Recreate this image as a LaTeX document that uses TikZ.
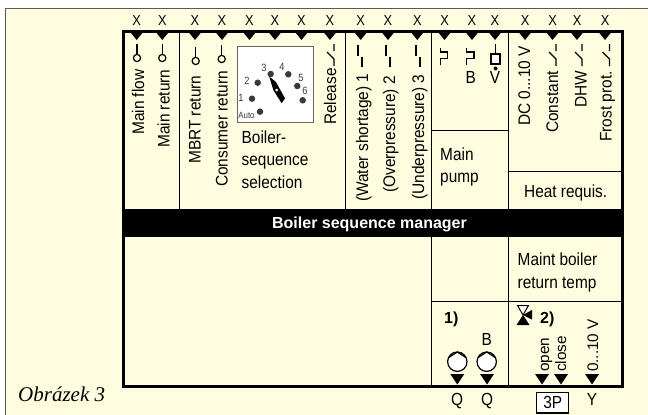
\documentclass[tikz,border=0pt]{standalone}
\usepackage{fontspec}
\setmainfont[FakeStretch=0.88]{Liberation Sans}
\newfontfamily\rotfont[FakeStretch=0.92]{Liberation Sans}
\newfontfamily\plainfont{Liberation Sans}
\newfontfamily\capfont{Liberation Serif}
\definecolor{cream}{HTML}{FFFDE0}
\definecolor{dial}{HTML}{3A3A3A}
\tikzset{
  x=1pt,y=-1pt,
  lab/.style={inner sep=0pt,anchor=base west,font=\fontsize{17.5}{20}\selectfont},
  rlab/.style={inner sep=0pt,anchor=base west,rotate=90,font=\rotfont\fontsize{16.8}{20}\selectfont},
  slab/.style={rlab,font=\plainfont\fontsize{15.3}{18}\selectfont},
  ctr/.style={inner sep=0pt,anchor=base,font=\fontsize{17.5}{20}\selectfont},
  xmark/.style={inner sep=0pt,anchor=base,font=\fontsize{14.5}{16}\selectfont},
  term/.style={fill=black,draw=none},
  sw/.style={line width=1.3pt},
  dot/.style={circle,fill=dial,inner sep=0pt,minimum size=6.5pt},
  num/.style={inner sep=0pt,font=\fontsize{10.5}{11}\selectfont,text=dial}
}
\newcommand{\termT}[1]{\fill[term] (#1-6.5,32) -- (#1+6.5,32) -- (#1,40) -- cycle;}
\newcommand{\termB}[1]{\fill[term] (#1-7,374) -- (#1+7,374) -- (#1,384.5) -- cycle;}
\newcommand{\xm}[1]{\node[xmark] at (#1,25) {X};}
\newcommand{\sens}[3]{\draw[line width=1.2pt] (#1,#2) -- (#1,#3); \draw[line width=1.2pt] (#1,#3+4) circle[radius=3.6];}
\newcommand{\contact}[1]{\draw[sw] (#1,44) -- (#1,51) (#1-7,52) -- (#1,59) -- (#1,66);}
\newcommand{\water}[2]{\draw[line width=2.4pt] (#1,45) -- (#1,55.7) (#2,56.7) -- (#2,67.3);}
\newcommand{\pump}[1]{\draw[line width=1.2pt,fill=white] (#1,361.7) circle[radius=9.7]; \draw[line width=1.2pt] (#1-8.5,357.5) -- (#1,352) -- (#1+8.5,357.5);}
\newcommand{\pumpsw}[2]{\draw[line width=1.3pt] (#1,48) -- (#1,52) -- (#2,52) -- (#2,58.7) -- (#1,58.7) -- (#1,64.7);}
\begin{document}
\begin{tikzpicture}
\useasboundingbox (0,0) rectangle (648,415);
\fill[white] (0,0) rectangle (648,415);
\fill[cream] (5,8) rectangle (648,415);
\draw[line width=1pt,draw=black!65] (5,415) -- (5,8) -- (648,8);
% frame
\fill[black] (123.5,208.5) rectangle (622.3,236.8);
\draw[line width=1pt]
  (179.5,32) -- (179.5,208.5)
  (345.7,32) -- (345.7,208.5)
  (431.5,32) -- (431.5,208.5)
  (508.3,32) -- (508.3,208.5)
  (431.5,130.7) -- (508.3,130.7)
  (508.3,171.3) -- (622.3,171.3)
  (431.5,236.8) -- (431.5,386)
  (508.3,236.8) -- (508.3,386)
  (431.5,301.7) -- (622.3,301.7);
\draw[line width=3pt] (123.5,31.5) rectangle (622.3,386);
% top marks
\foreach \q in {136.7,162.3,195,222,249.5,275,301.5,330,360.7,388,417.3,444.5,472,495,525,552.5,577,605}{\termT{\q}\xm{\q}}
% sensors
\sens{137}{44}{54}
\sens{162.3}{44}{54}
\sens{195.7}{47}{57}
\sens{221.7}{45}{55}
% labels rotated
\node[rlab] at (144,135) {Main flow};
\node[rlab] at (169.5,148) {Main return};
\node[rlab] at (200.5,164) {MBRT return};
\node[rlab] at (227.5,187) {Consumer return};
\node[rlab] at (336,125) {Release};
\contact{334}
\node[rlab] at (368,202) {(Water shortage) 1};
\node[rlab] at (395,193) {(Overpressure) 2};
\node[rlab] at (424,200) {(Underpressure) 3};
\water{358}{362}\water{385.7}{390}\water{416}{420}
\node[rlab] at (530,126) {DC 0...10 V};
\node[rlab] at (558,133) {Constant};
\node[rlab] at (586.7,108) {DHW};
\node[rlab] at (611.7,142) {Frost prot.};
\contact{556}\contact{582}\contact{609.5}
% dial
\draw[line width=1pt,draw=black!60,fill=white] (237.3,46.5) rectangle (313,122.5);
\node[dot] (d0) at (252,98.7) {};
\node[dot] (d1) at (257.7,82.7) {};
\node[dot] (d2) at (270.7,74) {};
\node[dot] (d3) at (288.3,74.3) {};
\node[dot] (d4) at (297.3,86) {};
\node[dot] (d5) at (302.7,100.3) {};
\node[dot] (d6) at (260,111.7) {};
\node[num] at (241,97.5) {1};
\node[num] at (247,81) {2};
\node[num] at (264,68) {3};
\node[num] at (282,66.5) {4};
\node[num] at (301,77.5) {5};
\node[num] at (305,91) {6};
\node[inner sep=0pt,font=\fontsize{9}{10}\selectfont,text=dial] at (246.5,115) {Auto};
\fill[black] (269.3,76.7) -- (275.7,81.7) -- (285,98.3) -- (281.7,103.3) -- (273.3,90) -- cycle;
\fill[white] (276.7,90) circle[radius=1.5];
% texts
\node[lab] at (241.5,143) {Boiler-};
\node[lab] at (241.5,165) {sequence};
\node[lab] at (241.5,188) {selection};
\node[lab] at (440,160) {Main};
\node[lab] at (440,182) {pump};
\node[lab] at (524,197) {Heat requis.};
\node[inner sep=0pt,anchor=base,text=white,font=\plainfont\fontsize{16}{20}\bfseries\selectfont] at (369.5,228) {Boiler sequence manager};
\node[lab] at (517.5,265.7) {Maint boiler};
\node[lab] at (517.5,288) {return temp};
% switch symbols main pump
\pumpsw{440.7}{447.7}
\pumpsw{466.7}{474}
\node[ctr] at (470.7,83) {B};
\draw[line width=1.2pt] (495.5,44) -- (495.5,53);
\draw[line width=2.5pt,fill=white] (491,54) rectangle (500,64);
\fill (495.5,68.5) circle[radius=2];
\node[ctr] at (495,83) {V};
% bottom
\node[inner sep=0pt,anchor=base west,font=\plainfont\fontsize{16}{20}\bfseries\selectfont] at (444,323) {1)};
\node[inner sep=0pt,anchor=base west,font=\plainfont\fontsize{16}{20}\bfseries\selectfont] at (540,323) {2)};
\node[ctr] at (486.7,345) {B};
\pump{457.3}\pump{486.7}
\foreach \q in {457.3,487,542,561,592}{\termB{\q}}
\node[slab] at (549,372) {open};
\node[slab] at (566,372) {close};
\node[slab] at (598,372) {0...10 V};
% valve
\draw[line width=1pt,fill=white] (517.5,305.5) -- (528.5,305.5) -- (523,315) -- cycle;
\fill (523,315) -- (529.5,325) -- (516.5,325) -- cycle;
\fill (523,315) -- (532,310) -- (532,319.5) -- cycle;
% terminals below
\node[ctr] at (457,405) {Q};
\node[ctr] at (487,405) {Q};
\node[ctr] at (592,405) {Y};
\node[draw=black,line width=1.5pt,fill=white,minimum width=32pt,minimum height=20.5pt,inner sep=0pt,font=\fontsize{17.5}{20}\selectfont] (tp) at (552.7,402.5) {3P};
\node[inner sep=0pt,anchor=base west,font=\capfont\itshape\fontsize{21}{22}\selectfont] at (18,401.7) {Obrázek 3};
\end{tikzpicture}
\end{document}
